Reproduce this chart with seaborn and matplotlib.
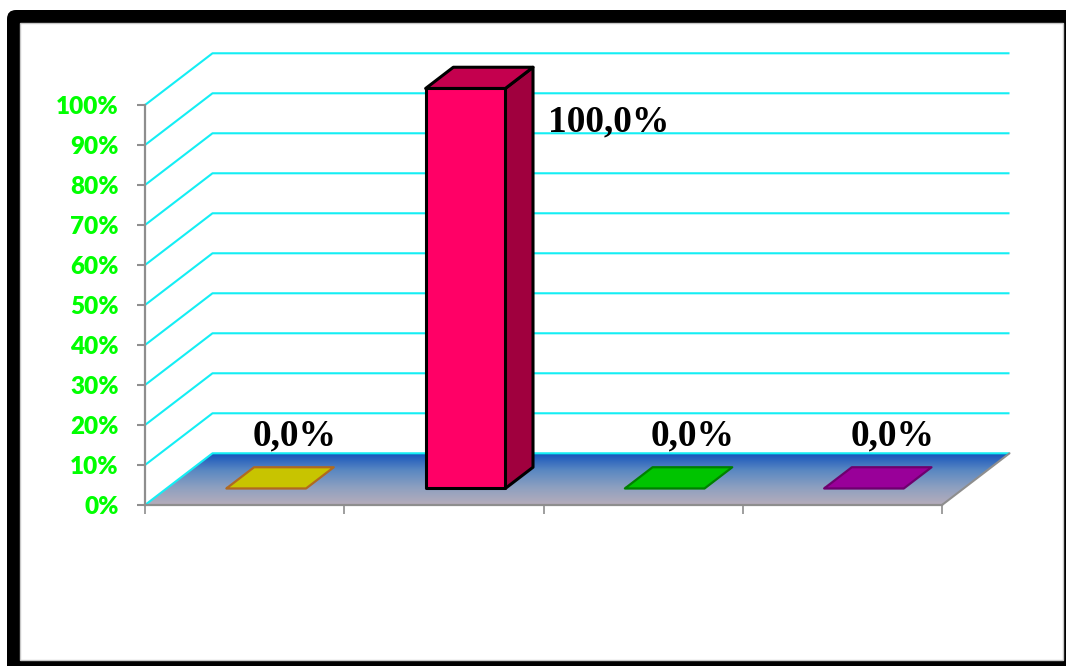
import numpy as np
import pandas as pd
import matplotlib
matplotlib.use("Agg")
import matplotlib.pyplot as plt
from matplotlib.patches import Polygon, FancyBboxPatch, Rectangle
from matplotlib.colors import LinearSegmentedColormap
import seaborn as sns

# ---- data ----
categories = ["Вариант 1", "Вариант 2", "Вариант 3", "Вариант 4"]
values = [0.0, 100.0, 0.0, 0.0]
front_colors = ["#c8c400", "#ff0066", "#00c400", "#990099"]
top_colors = ["#c8c400", "#c4004e", "#00c400", "#990099"]
side_colors = ["#a89a00", "#a0003e", "#009a00", "#770077"]
edge_colors = ["#b06a20", "#000000", "#008000", "#6e006e"]
y_ticks = list(range(0, 101, 10))
y_tick_labels = [f"{t}%" for t in y_ticks]

sns.set_theme(style="white")
plt.rcParams["font.family"] = ["Lato", "DejaVu Sans"]

W, H, DPI = 1066, 666, 100
fig = plt.figure(figsize=(W / DPI, H / DPI), dpi=DPI)
fig.patch.set_facecolor("white")

# outer black frame with rounded corner and inner white panel
fig.add_artist(FancyBboxPatch((7, -30), 1120, 686, boxstyle="round,pad=0,rounding_size=9",
                              transform=None, facecolor="black", edgecolor="none", zorder=-3))
fig.add_artist(Rectangle((20, 6), 1043, 637, transform=None, facecolor="white",
                         edgecolor="#c8c8c8", linewidth=1, zorder=-2))

ax = fig.add_axes([0, 0, 1, 1])
ax.patch.set_visible(False)

# oblique depth vector (category units, percent units)
DX, DY = 0.3388, 12.93
gx, gy = 0.32 * DX, 0.32 * DY   # front of the bars inside the floor
bx, by = 0.41 * DX, 0.41 * DY   # bar depth
bar_w = 0.4

df = pd.DataFrame({"cat": categories, "val": values})
sns.barplot(data=df, x="cat", y="val", hue="cat", palette=front_colors, width=bar_w,
            legend=False, ax=ax, saturation=1, zorder=5)

# floor with vertical gradient
floor = [(-0.5, 0), (3.5, 0), (3.5 + DX, DY), (-0.5 + DX, DY)]
floor_poly = Polygon(floor, closed=True, facecolor="none", edgecolor="none")
ax.add_patch(floor_poly)
cmap = LinearSegmentedColormap.from_list("floor", ["#b6adbb", "#8ea0c0", "#5a88c2", "#1452bc"])
grad = np.linspace(0, 1, 256).reshape(-1, 1)
im = ax.imshow(grad, cmap=cmap, extent=(-0.5, 3.5 + DX, 0, DY), origin="lower",
               aspect="auto", zorder=1, interpolation="bilinear")
im.set_clip_path(floor_poly)

# wall gridlines
for t in y_ticks:
    ax.plot([-0.5, -0.5 + DX, 3.5 + DX], [t, t + DY, t + DY], color="#14eef4",
            linewidth=1.5, zorder=2, solid_capstyle="butt", clip_on=False)
# right edge of the floor
ax.plot([3.5, 3.5 + DX], [0, DY], color="#8e8e8e", linewidth=1.5, zorder=2)

# 3-D bars: shift front faces into the floor, add side and top faces
for p in ax.patches:
    if not isinstance(p, Rectangle) or p is floor_poly:
        continue
    i = int(round(p.get_x() + p.get_width() / 2))
    v = values[i]
    x0 = p.get_x() + gx
    x1 = x0 + p.get_width()
    p.set_x(x0)
    p.set_y(gy)
    lw = 2.2 if v > 0 else 1.6
    p.set_edgecolor(edge_colors[i])
    p.set_linewidth(lw)
    p.set_joinstyle("round")
    if v > 0:
        ax.add_patch(Polygon([(x1, gy), (x1 + bx, gy + by), (x1 + bx, gy + by + v), (x1, gy + v)],
                             closed=True, facecolor=side_colors[i], edgecolor=edge_colors[i],
                             linewidth=lw, joinstyle="round", zorder=4))
    ax.add_patch(Polygon([(x0, gy + v), (x1, gy + v), (x1 + bx, gy + v + by), (x0 + bx, gy + v + by)],
                         closed=True, facecolor=top_colors[i], edgecolor=edge_colors[i],
                         linewidth=lw, joinstyle="round", zorder=6))

# value labels
label_font = dict(fontsize=27, fontweight="bold", family=["Liberation Serif", "DejaVu Serif"],
                  color="black", zorder=8)
for i, v in enumerate(values):
    txt = f"{v:.1f}".replace(".", ",") + "%"
    if v >= 50:
        ax.text(i + bar_w / 2 + gx + bx + 0.075, v - 6.7, txt, ha="left", va="baseline", **label_font)
    else:
        ax.text(i + 0.25, v + 15, txt, ha="center", va="baseline", **label_font)

# axes geometry: front plane x -0.5..3.5 -> px 145..942, y 0..100 -> px 505..105
ax.set_xlim((0 - 145) / 199.25 - 0.5, (W - 145) / 199.25 - 0.5)
ax.set_ylim((505 - H) / 4.0, 505 / 4.0)

for s in ["top", "right"]:
    ax.spines[s].set_visible(False)
ax.spines["left"].set_position(("data", -0.5))
ax.spines["left"].set_bounds(0, 100)
ax.spines["bottom"].set_position(("data", 0))
ax.spines["bottom"].set_bounds(-0.5, 3.5)
for s in ["left", "bottom"]:
    ax.spines[s].set_color("#8e8e8e")
    ax.spines[s].set_linewidth(1.6)
    ax.spines[s].set_zorder(3)

ax.set_yticks(y_ticks)
ax.set_yticklabels(y_tick_labels)
ax.set_xticks([-0.5, 0.5, 1.5, 2.5, 3.5])
ax.set_xticklabels([])
ax.tick_params(axis="y", left=True, direction="out", length=5.8, width=1.5, color="#8e8e8e",
               pad=13.0, labelsize=17.5, labelcolor="#00ff00")
ax.tick_params(axis="x", bottom=True, direction="out", length=6.5, width=1.2, color="#8e8e8e")
for lab in ax.get_yticklabels():
    lab.set_fontweight("heavy")
ax.set_xlabel("")
ax.set_ylabel("")

fig.savefig("out.png", dpi=DPI)
